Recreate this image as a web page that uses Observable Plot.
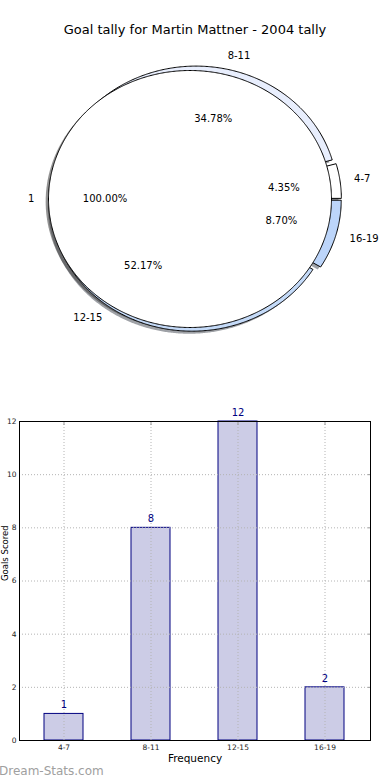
<!DOCTYPE html>
<html><head><meta charset="utf-8">
<script src="https://cdn.jsdelivr.net/npm/d3@7"></script>
<script src="https://cdn.jsdelivr.net/npm/@observablehq/plot@0.6"></script>
<style>
body{margin:0;background:#fff;font-family:"DejaVu Sans",sans-serif;}
#wrap{position:relative;width:390px;height:780px;overflow:hidden;background:#fff;}
#title{position:absolute;left:0;width:390px;top:21px;text-align:center;font-size:13px;line-height:18px;color:#000;}
#pie{position:absolute;left:0;top:40px;}
#bar{position:absolute;left:0;top:400px;}
#mark{position:absolute;left:-1px;top:763px;font-size:12px;line-height:16px;color:#a0a0a0;}
</style></head>
<body><div id="wrap">
<div id="title"></div>
<div id="pie"></div>
<div id="bar"></div>
<div id="mark"></div>
</div>
<script>
// ---- data ----
const title = "Goal tally for Martin Mattner - 2004 tally";
const categories = ["4-7", "8-11", "12-15", "16-19"];
const counts = [1, 8, 12, 2];
const wholeLabel = "1";
const xLabel = "Frequency";
const yLabel = "Goals Scored";
const yTicks = [0, 2, 4, 6, 8, 10, 12];
const watermark = "Dream-Stats.com";

document.getElementById("title").textContent = title;
document.getElementById("mark").textContent = watermark;

// ---- pie geometry (unit radius, matplotlib-style explode + shadow) ----
const total = d3.sum(counts);
const EXPLODE = 0.035, SH = 0.02;
const step = Math.PI / 360;
function arcPts(id, a0, a1, ox, oy, withCenter) {
  const pts = [];
  if (withCenter) pts.push({id, x: ox, y: oy});
  const n = Math.max(2, Math.ceil((a1 - a0) / step));
  for (let k = 0; k <= n; k++) {
    const a = a0 + (a1 - a0) * k / n;
    pts.push({id, x: ox + Math.cos(a), y: oy + Math.sin(a)});
  }
  if (withCenter) pts.push({id, x: ox, y: oy});
  return pts;
}
let acc = 0;
const slices = categories.map((c, i) => {
  const a0 = acc / total * 2 * Math.PI;
  acc += counts[i];
  const a1 = acc / total * 2 * Math.PI;
  const mid = (a0 + a1) / 2;
  const ox = EXPLODE * Math.cos(mid), oy = EXPLODE * Math.sin(mid);
  return {cat: c, a0, a1, mid, ox, oy, pct: (counts[i] / total * 100).toFixed(2) + "%"};
});
const wedgePts = slices.flatMap(s => arcPts(s.cat, s.a0, s.a1, s.ox, s.oy, true));
const wedgeShadow = wedgePts.map(p => ({id: p.id, x: p.x - SH, y: p.y - SH}));
// whole-circle slice (100%), exploded toward its mid angle (180deg)
const wholeMid = Math.PI;
const wox = EXPLODE * Math.cos(wholeMid), woy = EXPLODE * Math.sin(wholeMid);
const circlePts = arcPts(wholeLabel, 0, 2 * Math.PI, wox, woy, false);
const circleShadow = circlePts.map(p => ({id: p.id, x: p.x - SH, y: p.y - SH}));

const labels = slices.map(s => ({text: s.cat, x: s.ox + 1.1 * Math.cos(s.mid), y: s.oy + 1.1 * Math.sin(s.mid), c: Math.cos(s.mid)}))
  .concat([{text: wholeLabel, x: wox + 1.1 * Math.cos(wholeMid), y: woy + 1.1 * Math.sin(wholeMid), c: Math.cos(wholeMid)}]);
const pcts = slices.map(s => ({text: s.pct, x: s.ox + 0.6 * Math.cos(s.mid), y: s.oy + 0.6 * Math.sin(s.mid)}))
  .concat([{text: (100).toFixed(2) + "%", x: wox + 0.6 * Math.cos(wholeMid), y: woy + 0.6 * Math.sin(wholeMid)}]);

// layout: pie center at px (194.45, 158.5) inside 390x320 svg, radii 141.5 x 128.5
const CX = 194.45, CY = 158.5, RX = 141.5, RY = 128.5, PW = 390, PH = 320;
const pie = Plot.plot({
  width: PW, height: PH, margin: 0,
  style: {fontFamily: "DejaVu Sans", background: "transparent"},
  x: {domain: [-CX / RX, (PW - CX) / RX], axis: null},
  y: {domain: [(CY - PH) / RY, CY / RY], axis: null},
  color: {domain: categories, range: ["#ffffff", "#e8eefd", "#c4daf8", "#bcd5fa"]},
  marks: [
    Plot.line(wedgeShadow, {x: "x", y: "y", z: "id", fill: "#404650", fillOpacity: 0.5, stroke: "none", curve: "linear"}),
    Plot.line(circleShadow, {x: "x", y: "y", z: "id", fill: "#3a3a3a", fillOpacity: 0.55, stroke: "none", curve: "linear"}),
    Plot.line(wedgePts, {x: "x", y: "y", z: "id", fill: "id", stroke: "black", strokeWidth: 1, curve: "linear", strokeLinejoin: "miter"}),
    Plot.line(circlePts, {x: "x", y: "y", z: "id", fill: "white", stroke: "black", strokeWidth: 1, curve: "linear"}),
    Plot.text(labels.filter(d => d.c >= 0), {x: "x", y: "y", text: "text", textAnchor: "start", fontSize: 10, fill: "black"}),
    Plot.text(labels.filter(d => d.c < 0), {x: "x", y: "y", text: "text", textAnchor: "end", fontSize: 10, fill: "black"}),
    Plot.text(pcts, {x: "x", y: "y", text: "text", fontSize: 10, fill: "black"})
  ]
});
document.getElementById("pie").appendChild(pie);

// ---- bar chart ----
const barData = categories.map((c, i) => ({cat: c, count: counts[i]}));
const gridStyle = {stroke: "#b4b4b4", strokeOpacity: 1, strokeDasharray: "1,2", strokeWidth: 1};
const bars = Plot.plot({
  width: 390, height: 380, marginTop: 21, marginBottom: 40, marginLeft: 19, marginRight: 20,
  style: {fontFamily: "DejaVu Sans", background: "transparent", color: "#222"},
  x: {domain: categories, paddingInner: 0.55, paddingOuter: 0.275, label: null},
  y: {domain: [0, 12], label: null},
  marks: [
    Plot.barY(barData, {x: "cat", y: "count", fill: "#ccccE6", stroke: "#000080", strokeWidth: 1}),
    Plot.gridY(yTicks, gridStyle),
    Plot.gridX(gridStyle),
    Plot.axisY(yTicks, {tickSize: 0, tickPadding: 3, fontSize: 7.5, label: null}),
    Plot.axisY(yTicks, {anchor: "right", tickSize: -3, tickFormat: () => "", stroke: "#999", label: null}),
    Plot.axisX({tickSize: 0, tickPadding: 4, fontSize: 7.5, label: null}),
    Plot.axisX({anchor: "top", tickSize: -3, tickFormat: () => "", stroke: "#999", label: null}),
    Plot.frame({stroke: "black", strokeWidth: 1}),
    Plot.text(barData, {x: "cat", y: "count", text: d => String(d.count), dy: -9, fill: "#000080", fontSize: 10}),
    Plot.text([xLabel], {frameAnchor: "bottom", dy: 21, fontSize: 10.5, fill: "black"}),
    Plot.text([yLabel], {frameAnchor: "left", dx: -14, rotate: -90, fontSize: 8.5, fill: "black"})
  ]
});
document.getElementById("bar").appendChild(bars);
</script>
</body></html>
